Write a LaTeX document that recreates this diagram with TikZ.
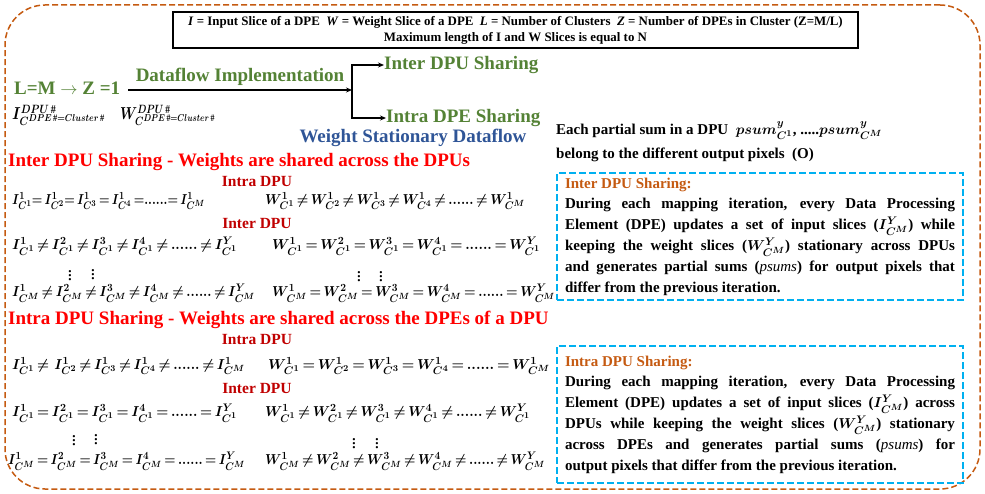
\documentclass[tikz,border=0pt]{standalone}
\usepackage{fontspec}
\usepackage{graphicx}
\setmainfont{Liberation Serif}
\usetikzlibrary{arrows.meta}
\definecolor{hgreen}{HTML}{548235}
\definecolor{hblue}{HTML}{2F5597}
\definecolor{hred}{HTML}{FF0000}
\definecolor{dred}{HTML}{C00000}
\definecolor{orng}{HTML}{C55A11}
\definecolor{cyanb}{HTML}{00B0F0}
\renewcommand\defaultscriptratio{.72}
\renewcommand\defaultscriptscriptratio{.6}
\newcommand\eqfit[2]{\resizebox{#1}{\height}{$#2$}}
\thickmuskip=3mu plus 2mu
\begin{document}
\begin{tikzpicture}[x=1pt,y=-1pt,
  head/.style={font=\fontsize{19}{22}\selectfont\bfseries, inner sep=0pt},
  eqn/.style={font=\fontsize{15.5}{17}\selectfont\boldmath, anchor=west, inner sep=0pt},
  dotsv/.style={font=\fontsize{19}{19}\selectfont\boldmath, anchor=center, inner sep=0pt},
  subhead/.style={font=\fontsize{15.5}{18}\selectfont\bfseries, text=dred, inner sep=0pt},
  plain/.style={font=\fontsize{15}{18}\selectfont\bfseries\boldmath, anchor=west, inner sep=0pt},
  infobox/.style={draw=cyanb, line width=2.4pt, dash pattern=on 7pt off 3pt,
    minimum width=406pt, text width=390pt, align=justify, inner sep=0pt,
    font=\fontsize{15}{20.8}\selectfont\bfseries\boldmath},
  conn/.style={line width=1.4pt, -{Stealth[length=6pt,width=5pt]}}]
\useasboundingbox (0,0) rectangle (985,494);
% outer frame
\node[draw=orng, line width=1.5pt, dash pattern=on 6pt off 3pt, rounded corners=40pt,
  minimum width=975pt, minimum height=484pt, inner sep=0pt] (frame) at (492.5,247) {};
% legend box
\node[draw, line width=1.2pt, minimum width=685pt, minimum height=36pt, align=center,
  inner sep=0pt, font=\fontsize{12.9}{16}\selectfont\bfseries] (legend) at (515.5,30)
  {\textit{I} = Input Slice of a DPE\ \ \textit{W} = Weight Slice of a DPE\ \ \textit{L} = Number of Clusters\ \ \textit{Z} = Number of DPEs in Cluster (Z=M/L)\\
   Maximum length of I and W Slices is equal to N};
% dataflow
\node[head, text=hgreen, anchor=west] (lm) at (14,88) {L=M $\rightarrow$ Z =1};
\node[head, text=hgreen] (dfi) at (240,77) {Dataflow Implementation};
\coordinate (lmstart) at (128,90);
\coordinate (fork) at (352,90);
\node[head, text=hgreen, anchor=west] (interds) at (384,65) {Inter DPU Sharing};
\node[head, text=hgreen, anchor=west] (intrads) at (386,118) {Intra DPE Sharing};
\draw[conn] (lmstart) -- (fork);
\draw[conn] (fork) |- (interds.west);
\draw[conn] (fork) |- (intrads.west);
\node[eqn, font=\fontsize{16.5}{17}\selectfont\boldmath] (ilab) at (12,115) {\eqfit{93pt}{I^{DPU\,\#}_{C^{DPE\,\#=Cluster\,\#}}}};
\node[eqn, font=\fontsize{16.5}{17}\selectfont\boldmath] (wlab) at (120,115) {\eqfit{95pt}{W^{DPU\,\#}_{C^{DPE\,\#=Cluster\,\#}}}};
\node[head, text=hblue] (wsd) at (413,138) {Weight Stationary Dataflow};
% psum text
\node[plain] (psum) at (556,131) {Each partial sum in a DPU\ \ $psum^{y}_{C^{1}}$, .....$psum^{y}_{C^{M}}$};
\node[plain] (belong) at (556,155) {belong to the different output pixels\ \ (O)};
% Inter DPU sharing section
\node[head, text=hred, anchor=west] (h1) at (8,162) {Inter DPU Sharing - Weights are shared across the DPUs};
\node[subhead] (s1) at (257,182) {Intra DPU};
\node[eqn] (r1l) at (12,201) {\eqfit{193pt}{I^{1}_{C^{1}}{=}\,I^{1}_{C^{2}}{=}\,I^{1}_{C^{3}}\,{=}\,I^{1}_{C^{4}}\,{=}......{=}\,I^{1}_{C^{M}}}};
\node[eqn] (r1r) at (265,201) {\eqfit{260pt}{W^{1}_{C^{1}} \neq W^{1}_{C^{2}} \neq W^{1}_{C^{3}} \neq W^{1}_{C^{4}} \neq ...... \neq W^{1}_{C^{M}}}};
\node[subhead] (s2) at (257,224) {Inter DPU};
\node[eqn] (r2l) at (12,246) {\eqfit{225pt}{I^{1}_{C^{1}} \neq I^{2}_{C^{1}} \neq I^{3}_{C^{1}} \neq I^{4}_{C^{1}} \neq ...... \neq I^{Y}_{C^{1}}}};
\node[eqn] (r2r) at (272,246) {\eqfit{268pt}{W^{1}_{C^{1}} = W^{2}_{C^{1}} = W^{3}_{C^{1}} = W^{4}_{C^{1}} = ...... = W^{Y}_{C^{1}}}};
\node[dotsv] (v1a) at (70,273) {$\vdots$};
\node[dotsv] (v1b) at (93,272) {$\vdots$};
\node[dotsv] (v1c) at (359,274) {$\vdots$};
\node[dotsv] (v1d) at (381,274) {$\vdots$};
\node[eqn] (r3l) at (12,293) {\eqfit{243pt}{I^{1}_{C^{M}} \neq I^{2}_{C^{M}} \neq I^{3}_{C^{M}} \neq I^{4}_{C^{M}} \neq ...... \neq I^{Y}_{C^{M}}}};
\node[eqn] (r3r) at (272,293) {\eqfit{283pt}{W^{1}_{C^{M}} = W^{2}_{C^{M}} = W^{3}_{C^{M}} = W^{4}_{C^{M}} = ...... = W^{Y}_{C^{M}}}};
% Intra DPU sharing section
\node[head, text=hred, anchor=west] (h2) at (8,320) {Intra DPU Sharing - Weights are shared across the DPEs of a DPU};
\node[subhead] (s3) at (257,340) {Intra DPU};
\node[eqn] (r4l) at (12,366) {\eqfit{233pt}{I^{1}_{C^{1}} \neq\; I^{1}_{C^{2}} \neq I^{1}_{C^{3}} \neq I^{1}_{C^{4}} \neq ...... \neq I^{1}_{C^{M}}}};
\node[eqn] (r4r) at (268,366) {\eqfit{282pt}{W^{1}_{C^{1}} = W^{1}_{C^{2}} = W^{1}_{C^{3}} = W^{1}_{C^{4}} = ...... = W^{1}_{C^{M}}}};
\node[subhead] (s4) at (257,389) {Inter DPU};
\node[eqn] (r5l) at (12,413) {\eqfit{225pt}{I^{1}_{C^{1}} = I^{2}_{C^{1}} = I^{3}_{C^{1}} = I^{4}_{C^{1}} = ...... = I^{Y}_{C^{1}}}};
\node[eqn] (r5r) at (265,413) {\eqfit{265pt}{W^{1}_{C^{1}} \neq W^{2}_{C^{1}} \neq W^{3}_{C^{1}} \neq W^{4}_{C^{1}} \neq......\neq W^{Y}_{C^{1}}}};
\node[dotsv] (v2a) at (74,438) {$\vdots$};
\node[dotsv] (v2b) at (96,437) {$\vdots$};
\node[dotsv] (v2c) at (354,441) {$\vdots$};
\node[dotsv] (v2d) at (377,441) {$\vdots$};
\node[eqn] (r6l) at (8,461) {\eqfit{237pt}{I^{1}_{C^{M}} = I^{2}_{C^{M}} = I^{3}_{C^{M}} = I^{4}_{C^{M}} = ...... = I^{Y}_{C^{M}}}};
\node[eqn] (r6r) at (265,461) {\eqfit{280pt}{W^{1}_{C^{M}} \neq W^{2}_{C^{M}} \neq W^{3}_{C^{M}} \neq W^{4}_{C^{M}} \neq......\neq W^{Y}_{C^{M}}}};
% info boxes
\node[infobox, minimum height=127pt] (box1) at (760,236.5)
 {{\color{orng}Inter DPU Sharing:}\\
 During each mapping iteration, every Data Processing\linebreak
 Element (DPE) updates a set of input slices ($I^{Y}_{C^{M}}$) while\linebreak
 keeping the weight slices ($W^{Y}_{C^{M}}$) stationary across DPUs\linebreak
 and generates partial sums ({\mdseries\itshape psums}) for output pixels that\linebreak
 differ from the previous iteration.};
\node[infobox, minimum height=137pt] (box2) at (760,414.5)
 {{\color{orng}Intra DPU Sharing:}\\
 During each mapping iteration, every Data Processing\linebreak
 Element (DPE) updates a set of input slices ($I^{Y}_{C^{M}}$) across\linebreak
 DPUs while keeping the weight slices ($W^{Y}_{C^{M}}$) stationary\linebreak
 across DPEs and generates partial sums ({\mdseries\itshape psums}) for\linebreak
 output pixels that differ from the previous iteration.};
\end{tikzpicture}
\end{document}
